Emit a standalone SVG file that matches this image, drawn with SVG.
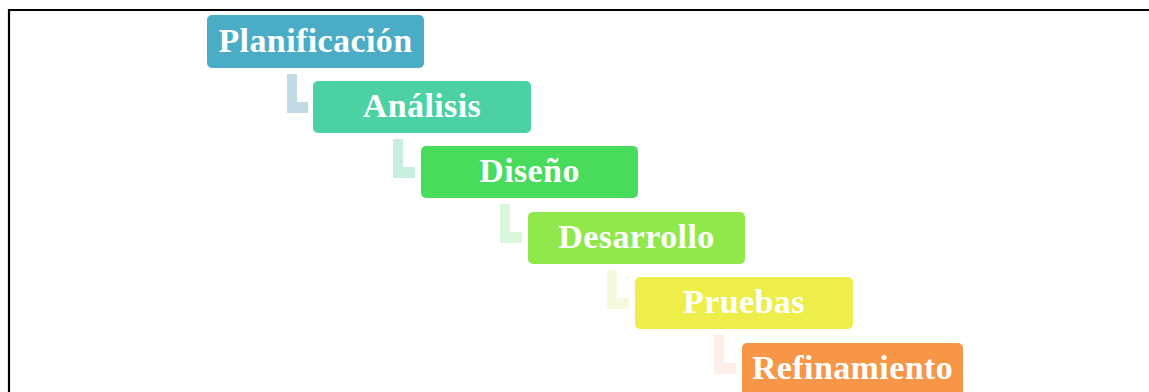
<svg xmlns="http://www.w3.org/2000/svg" width="1149" height="392" viewBox="0 0 1149 392">
  <style>
    .box { stroke: none; }
    .lbl { font-family: "Liberation Serif", "Times New Roman", serif; font-weight: bold; font-size: 34px; letter-spacing: 0.4px; fill: #FFFFFF; text-anchor: middle; }
  </style>
  <rect width="1149" height="392" fill="#FFFFFF"/>
  <!-- frame -->
  <path d="M9 392 V10 H1149" fill="none" stroke="#000000" stroke-width="2.2"/>

  <!-- elbow connectors -->
  <g id="connectors">
    <path d="M287 74 H297 V102 H308 V113 H287 Z" fill="#C1DBE5"/>
    <path d="M393 139 H403 V167 H415 V178 H393 Z" fill="#C8EFDE"/>
    <path d="M500 204 H510 V232 H522 V243 H500 Z" fill="#DAF6DB"/>
    <path d="M607 270 H617 V298 H629 V309 H607 Z" fill="#F6F9DD"/>
    <path d="M714 335 H724 V363 H736 V374 H714 Z" fill="#FDEEE8"/>
  </g>

  <g id="planificacion">
    <rect class="box" x="207" y="15" width="217" height="53" rx="5" fill="#4BACC6"/>
    <text class="lbl" x="315.5" y="52">Planificación</text>
  </g>
  <g id="analisis">
    <rect class="box" x="313" y="81" width="218" height="52" rx="5" fill="#4BD1A4"/>
    <text class="lbl" x="422" y="117">Análisis</text>
  </g>
  <g id="diseno">
    <rect class="box" x="421" y="146" width="217" height="52" rx="5" fill="#48DB5C"/>
    <text class="lbl" x="529.5" y="182">Diseño</text>
  </g>
  <g id="desarrollo">
    <rect class="box" x="528" y="212" width="217" height="52" rx="5" fill="#91E84A"/>
    <text class="lbl" x="636.5" y="248">Desarrollo</text>
  </g>
  <g id="pruebas">
    <rect class="box" x="635" y="277" width="218" height="52" rx="5" fill="#EDEE4A"/>
    <text class="lbl" x="744" y="313">Pruebas</text>
  </g>
  <g id="refinamiento">
    <rect class="box" x="742" y="343" width="221" height="60" rx="5" fill="#F79646"/>
    <text class="lbl" x="852.5" y="379">Refinamiento</text>
  </g>
</svg>
